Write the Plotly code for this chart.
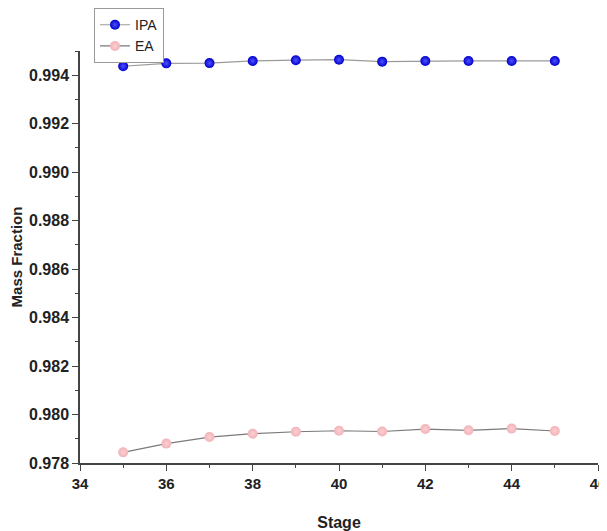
import plotly.graph_objects as go

stages = [35, 36, 37, 38, 39, 40, 41, 42, 43, 44, 45]
ipa = [0.99437, 0.99449, 0.99450, 0.99459, 0.99462, 0.99464, 0.99456, 0.99459, 0.99459, 0.99459, 0.99459]
ea = [0.97844, 0.97880, 0.97907, 0.97921, 0.97929, 0.97933, 0.97930, 0.97940, 0.97935, 0.97942, 0.97932]

x_ticks = [34, 36, 38, 40, 42, 44, 46]
y_ticks = [0.978, 0.980, 0.982, 0.984, 0.986, 0.988, 0.990, 0.992, 0.994]

font_family = "Liberation Sans, Arial, sans-serif"

fig = go.Figure()
fig.add_trace(go.Scatter(
    x=stages, y=ipa, name="IPA", mode="lines+markers",
    line=dict(color="#9a9a9a", width=1.2),
    marker=dict(size=10, color="#0000cc", line=dict(width=0),
                gradient=dict(type="radial", color="#5050ff")),
))
fig.add_trace(go.Scatter(
    x=stages, y=ea, name="EA", mode="lines+markers",
    line=dict(color="#7a7a7a", width=1.2),
    marker=dict(size=10, color="#f2b3b8", line=dict(width=0),
                gradient=dict(type="radial", color="#fad0d3")),
))

axis_common = dict(
    showline=True, linecolor="#444", linewidth=1.5,
    ticks="outside", tickcolor="#444", ticklen=6, tickwidth=1.3,
    showgrid=False, zeroline=False, mirror=False, automargin=False,
)

fig.update_xaxes(
    range=[34, 46], tickvals=x_ticks, ticktext=[f"<b>{v}</b>" for v in x_ticks],
    tickfont=dict(family=font_family, size=15, color="#222"),
    minor=dict(ticks="outside", ticklen=3, dtick=1, tick0=34, tickcolor="#444"),
    title=dict(text="<b>Stage</b>", font=dict(family=font_family, size=16, color="#222"), standoff=26),
    **axis_common,
)
fig.update_yaxes(
    range=[0.978, 0.995], tickvals=y_ticks, ticktext=[f"<b>{v:.3f}</b>" for v in y_ticks],
    tickfont=dict(family=font_family, size=16, color="#222"),
    minor=dict(ticks="outside", ticklen=3, dtick=0.001, tick0=0.978, tickcolor="#444"),
    title=dict(text="<b>Mass Fraction</b>", font=dict(family=font_family, size=15, color="#222"), standoff=6),
    **axis_common,
)

# the page adds an 8px body margin, so the figure is sized 8px smaller
fig.update_layout(
    width=599, height=523,
    margin=dict(l=72, r=9, t=43, b=68, autoexpand=False),
    plot_bgcolor="white", paper_bgcolor="white",
    legend=dict(
        x=0.027, y=1.104, xanchor="left", yanchor="top",
        bordercolor="#999", borderwidth=1, bgcolor="white",
        font=dict(family=font_family, size=14, color="#222"),
        tracegroupgap=0, itemwidth=30,
    ),
)

fig.write_html("out.html")
